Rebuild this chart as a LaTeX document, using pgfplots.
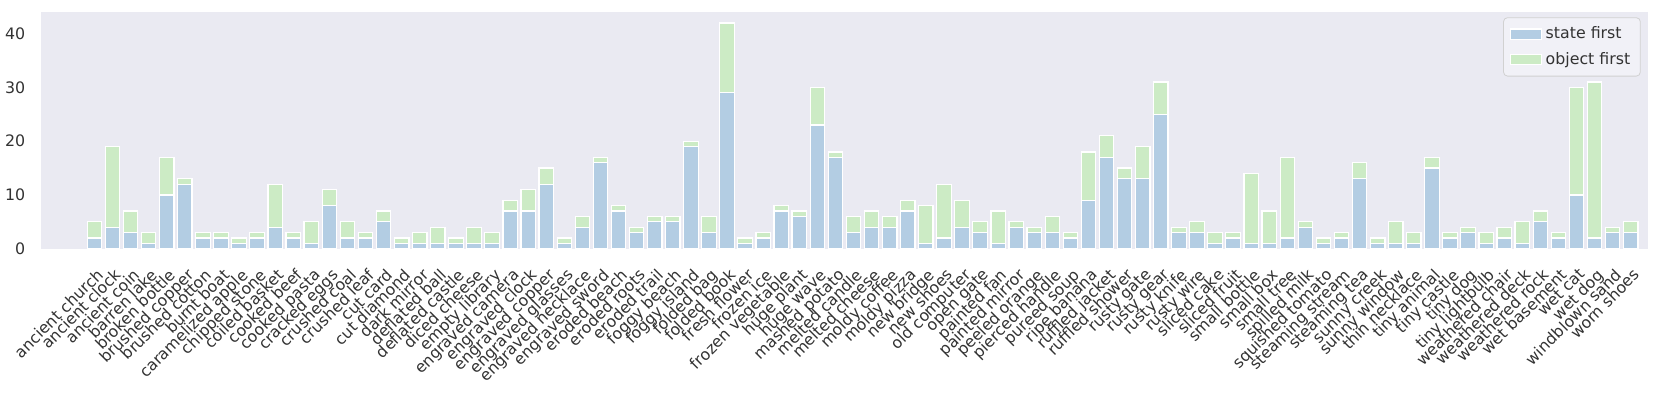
\documentclass[border=0pt]{standalone}
\usepackage{pgfplots}
\pgfplotsset{compat=1.18}
\usepackage{pgfplotstable}
\usepackage{fontspec}
\setmainfont{DejaVu Sans}
\definecolor{bgcol}{HTML}{EAEAF2}
\definecolor{stateblue}{HTML}{B3CDE3}
\definecolor{objgreen}{HTML}{CCEBC5}
\definecolor{txt}{HTML}{333333}

% idx  state  object
\pgfplotstableread{
idx state obj
0 2 3
1 4 15
2 3 4
3 1 2
4 10 7
5 12 1
6 2 1
7 2 1
8 1 1
9 2 1
10 4 8
11 2 1
12 1 4
13 8 3
14 2 3
15 2 1
16 5 2
17 1 1
18 1 2
19 1 3
20 1 1
21 1 3
22 1 2
23 7 2
24 7 4
25 12 3
26 1 1
27 4 2
28 16 1
29 7 1
30 3 1
31 5 1
32 5 1
33 19 1
34 3 3
35 29 13
36 1 1
37 2 1
38 7 1
39 6 1
40 23 7
41 17 1
42 3 3
43 4 3
44 4 2
45 7 2
46 1 7
47 2 10
48 4 5
49 3 2
50 1 6
51 4 1
52 3 1
53 3 3
54 2 1
55 9 9
56 17 4
57 13 2
58 13 6
59 25 6
60 3 1
61 3 2
62 1 2
63 2 1
64 1 13
65 1 6
66 2 15
67 4 1
68 1 1
69 2 1
70 13 3
71 1 1
72 1 4
73 1 2
74 15 2
75 2 1
76 3 1
77 1 2
78 2 2
79 1 4
80 5 2
81 2 1
82 10 20
83 2 29
84 3 1
85 3 2
}\counts

\begin{document}
\begin{tikzpicture}
\begin{axis}[
  scale only axis, width=803.2pt, height=118.5pt,
  ybar stacked, bar width=0.8,
  xmin=-2.94, xmax=85.94, ymin=0, ymax=44.1,
  axis background/.style={fill=bgcol},
  axis line style={draw=none},
  major tick length=0pt,
  tick style={draw=none},
  ytick={0,10,20,30,40},
  xtick={0,...,85},
  xticklabels={ancient church,ancient clock,ancient coin,barren lake,broken bottle,brushed copper,brushed cotton,burnt boat,caramelized apple,chipped stone,coiled basket,cooked beef,cooked pasta,cracked eggs,crushed coal,crushed leaf,cut card,cut diamond,dark mirror,deflated ball,deflated castle,diced cheese,empty library,engraved camera,engraved clock,engraved copper,engraved glasses,engraved necklace,engraved sword,eroded beach,eroded roots,eroded trail,foggy beach,foggy island,folded bag,folded book,fresh flower,frozen ice,frozen vegetable,huge plant,huge wave,mashed potato,melted candle,melted cheese,moldy coffee,moldy pizza,new bridge,new shoes,old computer,open gate,painted fan,painted mirror,peeled orange,pierced handle,pureed soup,ripe banana,ruffled jacket,ruffled shower,rusty gate,rusty gear,rusty knife,rusty wire,sliced cake,sliced fruit,small bottle,small box,small tree,spilled milk,squished tomato,steaming stream,steaming tea,sunny creek,sunny window,thin necklace,tiny animal,tiny castle,tiny dog,tiny lightbulb,weathered chair,weathered deck,weathered rock,wet basement,wet cat,wet dog,windblown sand,worn shoes},
  tick label style={font=\fontsize{7.9}{9.4}\selectfont, text=txt},
  /pgf/number format/assume math mode=true,
  xticklabel style={rotate=45, anchor=north east, inner sep=0pt, xshift=-6pt, yshift=-7pt},
  yticklabel style={anchor=east, inner sep=0pt, xshift=-7.8pt},
  legend style={at={(1,1)}, anchor=north east, xshift=-3.5pt, yshift=-2.8pt,
    font=\fontsize{7.9}{9.4}\selectfont, text=txt,
    fill=white!35!bgcol, draw=black!18, rounded corners=2pt,
    inner xsep=3pt, inner ysep=2.5pt, row sep=1.2pt,
    cells={anchor=west}},
  legend image code/.code={\draw[#1, sharp corners] (0pt,-2.6pt) rectangle (15.5pt,2.6pt);},
]
\addplot[fill=stateblue, draw=white, line width=0.6pt] table[x=idx, y=state] {\counts};
\addlegendentry{state first}
\addplot[fill=objgreen, draw=white, line width=0.6pt] table[x=idx, y=obj] {\counts};
\addlegendentry{object first}
\end{axis}
\pgfresetboundingbox
\path ([xshift=-20.65pt,yshift=-72.65pt]current axis.south west) rectangle ([xshift=6.65pt,yshift=5.85pt]current axis.north east);
\end{tikzpicture}
\end{document}
